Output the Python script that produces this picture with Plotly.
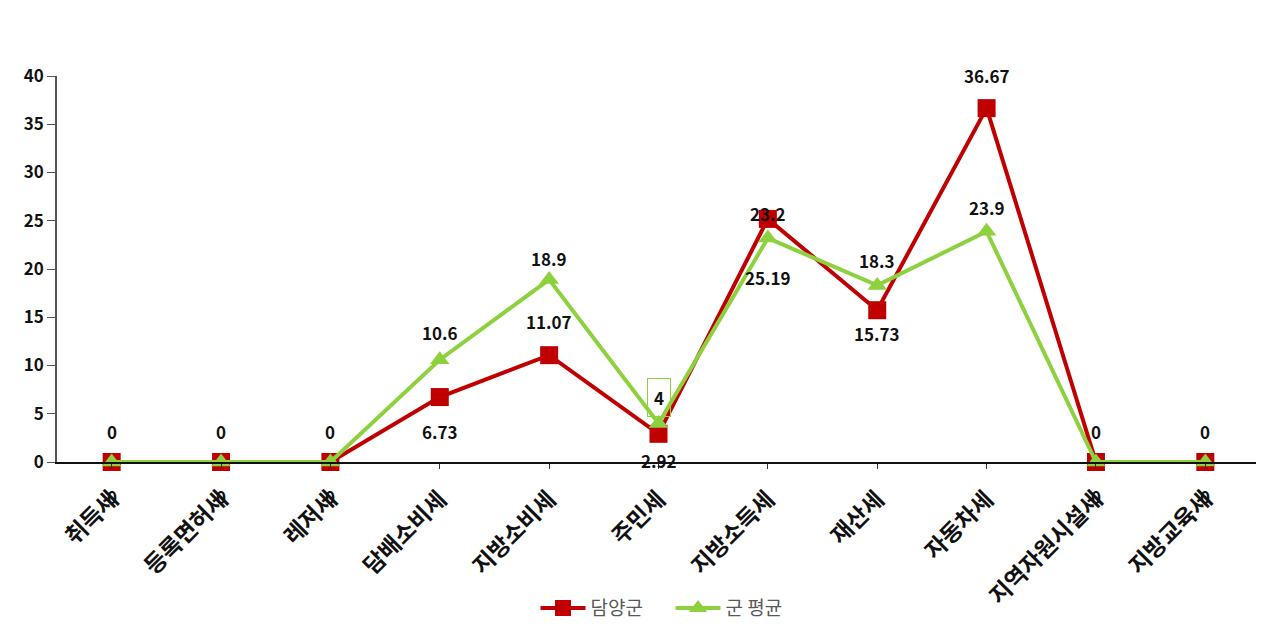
import plotly.graph_objects as go

categories = ["취득세", "등록면허세", "레저세", "담배소비세", "지방소비세", "주민세",
              "지방소득세", "재산세", "자동차세", "지역자원시설세", "지방교육세"]
damyang = [0, 0, 0, 6.73, 11.07, 2.92, 25.19, 15.73, 36.67, 0, 0]
gun_avg = [0, 0, 0, 10.6, 18.9, 4, 23.2, 18.3, 23.9, 0, 0]
y_ticks = [0, 5, 10, 15, 20, 25, 30, 35, 40]

# label offsets in px (style only): positive = above the point
damyang_label_shift = [-34, -34, -34, -34, 34, -27, -59, -23, 33, -34, -34]
gun_label_shift = [31, 31, 31, 27, 21, 26, 25, 25, 24, 31, 31]
gun_boxed = [False, False, False, False, False, True, False, False, False, False, False]

RED = "#C00000"
GREEN = "#8DD13F"
FONT = "Noto Sans CJK KR"

def fmt(v):
    return f"{v:g}"

fig = go.Figure()
fig.add_trace(go.Scatter(
    x=categories, y=damyang, name="담양군", mode="lines+markers",
    line=dict(color=RED, width=4),
    marker=dict(symbol="square", size=18, color=RED),
    cliponaxis=False,
))
fig.add_trace(go.Scatter(
    x=categories, y=gun_avg, name="군 평균", mode="lines+markers",
    line=dict(color=GREEN, width=4),
    marker=dict(symbol="triangle-up", size=17, color=GREEN),
    cliponaxis=False,
))

for c, v, s in zip(categories, damyang, damyang_label_shift):
    fig.add_annotation(x=c, y=v, text=f"<b>{fmt(v)}</b>", showarrow=False,
                       yshift=s, yanchor="middle",
                       font=dict(family=FONT, size=17, color="#111"))
for c, v, s, boxed in zip(categories, gun_avg, gun_label_shift, gun_boxed):
    fig.add_annotation(x=c, y=v, text=f"<b>{fmt(v)}</b>", showarrow=False,
                       yshift=s, yanchor="middle",
                       bordercolor=GREEN if boxed else "rgba(0,0,0,0)",
                       borderwidth=1, borderpad=6 if boxed else 0,
                       font=dict(family=FONT, size=17, color="#111"))

fig.update_layout(
    width=1256, height=622,
    margin=dict(l=49, r=4, t=68, b=167),
    paper_bgcolor="white", plot_bgcolor="white",
    font=dict(family=FONT, color="#111"),
    showlegend=True,
    legend=dict(orientation="h", x=0.51, xanchor="center", y=-0.375, yanchor="middle",
                font=dict(family=FONT, size=19, color="#595959"), itemwidth=45,
                entrywidth=75),
    xaxis=dict(
        type="category", range=[-0.5, 10.5], showgrid=False, automargin=False,
        showline=True, linecolor="#111", linewidth=1.5,
        tickangle=-45, ticks="outside", ticklen=5, tickcolor="#333",
        ticklabelstandoff=8, zeroline=False,
        tickfont=dict(family=FONT, size=23, color="#111", weight="bold"),
    ),
    yaxis=dict(
        range=[0, 40], tickvals=y_ticks, showgrid=False, zeroline=False, automargin=False,
        showline=True, linecolor="#555", linewidth=1.5,
        ticks="outside", ticklen=8, tickcolor="#555",
        tickfont=dict(family=FONT, size=17, color="#111", weight="bold"),
    ),
)

fig.write_html("out.html")
